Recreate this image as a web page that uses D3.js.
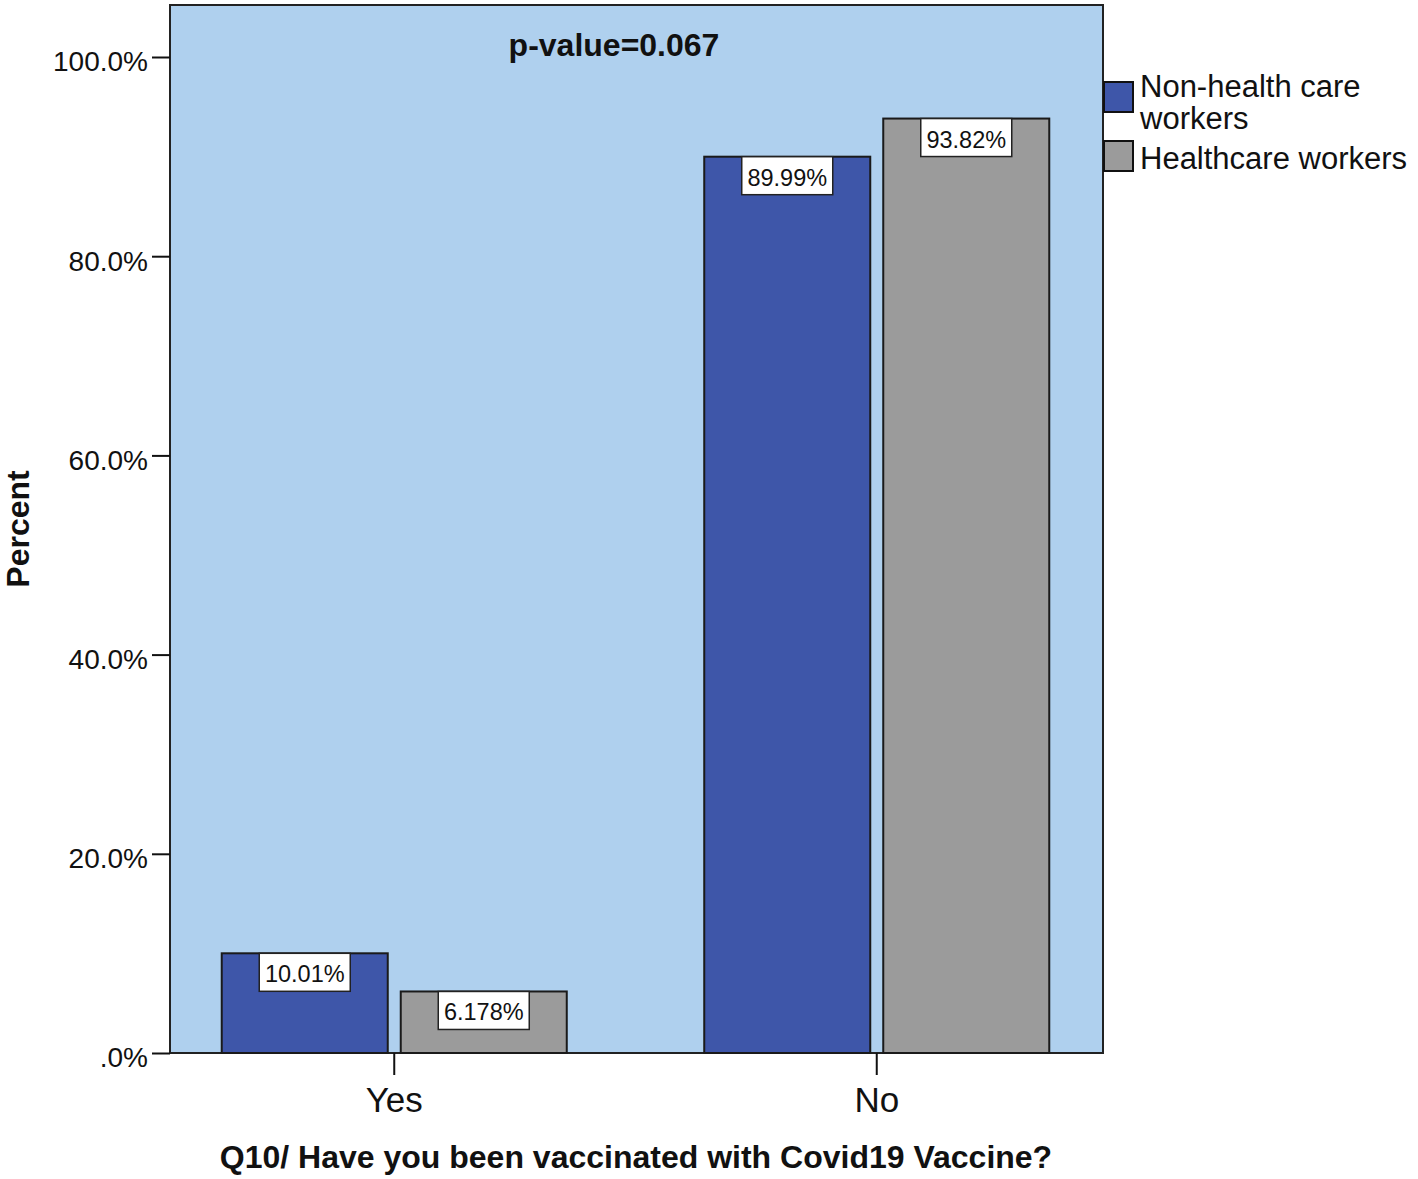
<!DOCTYPE html>
<html>
<head>
<meta charset="utf-8">
<script src="https://cdn.jsdelivr.net/npm/d3@7"></script>
<style>
  body { margin: 0; background: #fff; }
  text { font-family: "Liberation Sans", Arial, sans-serif; fill: #111; }
</style>
</head>
<body>
<svg width="1418" height="1179"></svg>
<script>
// chart values
const categories = ['Yes', 'No'];
const series = ['Non-health care workers', 'Healthcare workers'];
const nonHealthValues = [10.01, 89.99];
const healthValues = [6.178, 93.82];
const valueLabels = [['10.01%', '89.99%'], ['6.178%', '93.82%']];
const yTicks = [0, 20, 40, 60, 80, 100];
const yTickLabels = ['.0%', '20.0%', '40.0%', '60.0%', '80.0%', '100.0%'];
const colours = ['#3e56a9', '#9b9b9b'];

const svg = d3.select('svg');
const plotLeft = 170, plotRight = 1103, plotTop = 5, plotBottom = 1053;

const y = d3.scaleLinear().domain([0, 100]).range([plotBottom, 57]);
const x0 = d3.scaleBand().domain(categories).range([153, 1118]);
const x1 = d3.scaleBand().domain(series).range([0, x0.bandwidth()])
    .paddingInner(0.0726).paddingOuter(0.384);
const colour = d3.scaleOrdinal().domain(series).range(colours);

// plot background
svg.append('rect')
    .attr('x', plotLeft).attr('y', plotTop)
    .attr('width', plotRight - plotLeft).attr('height', plotBottom - plotTop)
    .attr('fill', '#afd0ee')
    .attr('stroke', '#222').attr('stroke-width', 2);

const rows = [];
categories.forEach((c, i) => {
    rows.push({ cat: c, s: series[0], v: nonHealthValues[i], label: valueLabels[0][i] });
    rows.push({ cat: c, s: series[1], v: healthValues[i], label: valueLabels[1][i] });
});

const bars = svg.append('g');
bars.selectAll('rect')
    .data(rows)
    .enter().append('rect')
    .attr('x', d => x0(d.cat) + x1(d.s))
    .attr('y', d => y(d.v))
    .attr('width', x1.bandwidth())
    .attr('height', d => y(0) - y(d.v))
    .attr('fill', d => colour(d.s))
    .attr('stroke', '#1a1a1a').attr('stroke-width', 2);

// value labels in white boxes
const lab = svg.append('g').selectAll('g')
    .data(rows)
    .enter().append('g')
    .attr('transform', d => 'translate(' + (x0(d.cat) + x1(d.s) + x1.bandwidth() / 2) + ',' + y(d.v) + ')');
lab.append('rect')
    .attr('x', -45.5).attr('y', 0)
    .attr('width', 91).attr('height', 38)
    .attr('fill', '#fff')
    .attr('stroke', '#222').attr('stroke-width', 1.5);
lab.append('text')
    .attr('y', 29)
    .attr('text-anchor', 'middle')
    .style('font-size', '23.5px')
    .text(d => d.label);

// y axis
const yAxis = svg.append('g')
    .attr('transform', 'translate(' + plotLeft + ',0)')
    .call(d3.axisLeft(y).tickValues(yTicks).tickSize(18).tickPadding(4)
        .tickFormat((d, i) => yTickLabels[i]));
yAxis.select('.domain').remove();
yAxis.selectAll('line').attr('stroke', '#111').attr('stroke-width', 2);
yAxis.selectAll('text').style('font-size', '28px').style('fill', '#111')
    .attr('dy', '0.35em').attr('y', 4);

// x axis
const xAxis = svg.append('g')
    .attr('transform', 'translate(0,' + plotBottom + ')')
    .call(d3.axisBottom(x0).tickSize(22).tickPadding(10));
xAxis.select('.domain').remove();
xAxis.selectAll('line').attr('stroke', '#111').attr('stroke-width', 2);
xAxis.selectAll('text').style('font-size', '35px').style('fill', '#111')
    .attr('y', 59).attr('dy', null);

// titles
svg.append('text')
    .attr('x', 636).attr('y', 1168)
    .attr('text-anchor', 'middle')
    .style('font-size', '32px').style('font-weight', 'bold')
    .text('Q10/ Have you been vaccinated with Covid19 Vaccine?');

svg.append('text')
    .attr('transform', 'translate(29,529) rotate(-90)')
    .attr('text-anchor', 'middle')
    .style('font-size', '32px').style('font-weight', 'bold')
    .text('Percent');

svg.append('text')
    .attr('x', 614).attr('y', 56)
    .attr('text-anchor', 'middle')
    .style('font-size', '32px').style('font-weight', 'bold')
    .text('p-value=0.067');

// legend
const legend = svg.append('g').attr('transform', 'translate(1104,82)');
legend.append('rect').attr('x', 0).attr('y', 0).attr('width', 29).attr('height', 30)
    .attr('fill', colours[0]).attr('stroke', '#111').attr('stroke-width', 2);
legend.append('rect').attr('x', 0).attr('y', 59).attr('width', 29).attr('height', 30)
    .attr('fill', colours[1]).attr('stroke', '#111').attr('stroke-width', 2);
legend.append('text').attr('x', 36).attr('y', 15).style('font-size', '31px').text('Non-health care');
legend.append('text').attr('x', 36).attr('y', 47).style('font-size', '31px').text('workers');
legend.append('text').attr('x', 36).attr('y', 87).style('font-size', '31px').text(series[1]);
</script>
</body>
</html>
